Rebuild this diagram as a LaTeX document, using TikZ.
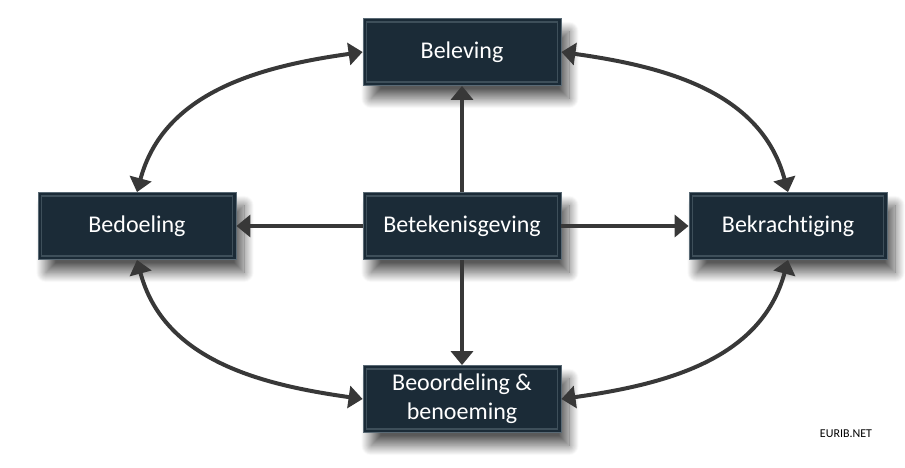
\documentclass[tikz,border=0pt]{standalone}
\usepackage{fontspec}
\setmainfont{Carlito}[Ligatures=NoCommon]
\usetikzlibrary{arrows.meta,shadows.blur}

\definecolor{blokkleur}{HTML}{1B2B37}
\definecolor{randkleur}{HTML}{6A7A85}
\definecolor{pijlkleur}{HTML}{383838}

\tikzset{
  blok/.style={fill=blokkleur, draw=randkleur!80!blokkleur, line width=0.8pt,
    minimum width=198pt, minimum height=67pt, text=white, align=center,
    font=\fontsize{24}{29}\selectfont,
    blur shadow={shadow xshift=8pt, shadow yshift=-13pt, shadow blur radius=10pt,
      shadow blur steps=20, shadow opacity=65},
    path picture={\draw[randkleur!45!blokkleur, line width=1.2pt]
      ([shift={(3.5pt,-3.5pt)}]path picture bounding box.north west) rectangle
      ([shift={(-3.5pt,3.5pt)}]path picture bounding box.south east);}},
  pijl/.style={draw=pijlkleur, line width=4pt, -{Triangle[length=14pt,width=22pt]}},
  dubbelpijl/.style={draw=pijlkleur, line width=4pt,
    {Triangle[length=14pt,width=22pt]}-{Triangle[length=14pt,width=22pt]}},
}

\begin{document}
\begin{tikzpicture}[x=1pt, y=-1pt]
    \useasboundingbox (0,0) rectangle (905,467);

    \node[blok] (beleving) at (462,52) {Beleving};
    \node[blok] (bedoeling) at (137,226) {Bedoeling};
    \node[blok] (betekenis) at (462,226) {Betekenisgeving};
    \node[blok] (bekracht) at (788,226) {Bekrachtiging};
    \node[blok] (beoordeling) at (462,399) {Beoordeling \&\\benoeming};

    % vanuit het midden
    \draw[pijl] (betekenis) -- (beleving);
    \draw[pijl] (betekenis) -- (bedoeling);
    \draw[pijl] (betekenis) -- (bekracht);
    \draw[pijl] (betekenis) -- (beoordeling);

    % buitenring
    \draw[dubbelpijl] (bedoeling.north) to[out=75, in=188] (beleving.west);
    \draw[dubbelpijl] (bekracht.north) to[out=105, in=-8] (beleving.east);
    \draw[dubbelpijl] (bedoeling.south) to[out=-75, in=172] (beoordeling.west);
    \draw[dubbelpijl] (bekracht.south) to[out=-105, in=8] (beoordeling.east);

    \node[font=\fontsize{12}{14}\selectfont] (bron) at (846,434) {EURIB.NET};
\end{tikzpicture}
\end{document}
